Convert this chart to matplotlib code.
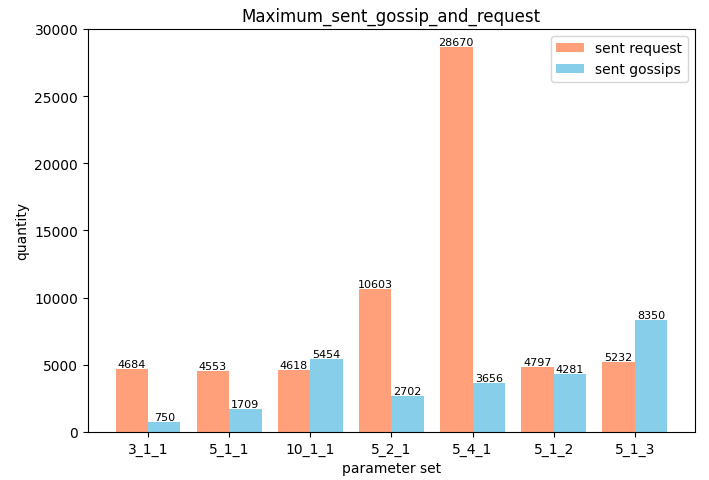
import numpy as np
import matplotlib
matplotlib.use("Agg")
import matplotlib.pyplot as plt

# --- data ---
params = ["3_1_1", "5_1_1", "10_1_1", "5_2_1", "5_4_1", "5_1_2", "5_1_3"]
sent_request = [4684, 4553, 4618, 10603, 28670, 4797, 5232]
sent_gossips = [750, 1709, 5454, 2702, 3656, 4281, 8350]

fig = plt.figure(figsize=(7.09, 4.81), dpi=100)
ax = fig.add_axes([0.124, 0.1, 0.856, 0.838])

x = np.arange(len(params))
w = 0.4
b1 = ax.bar(x - w / 2, sent_request, w, color="lightsalmon", label="sent request")
b2 = ax.bar(x + w / 2, sent_gossips, w, color="skyblue", label="sent gossips")

for bars in (b1, b2):
    for r in bars:
        h = r.get_height()
        ax.text(r.get_x() + r.get_width() / 2, h, str(int(h)),
                ha="center", va="bottom", fontsize=8)

ax.set_xticks(x)
ax.set_xticklabels(params)
ax.set_ylim(0, 30000)
ax.set_xlabel("parameter set", labelpad=4)
ax.set_ylabel("quantity")
ax.set_title("Maximum_sent_gossip_and_request")
ax.legend(loc="upper right")

fig.savefig("out.png")
